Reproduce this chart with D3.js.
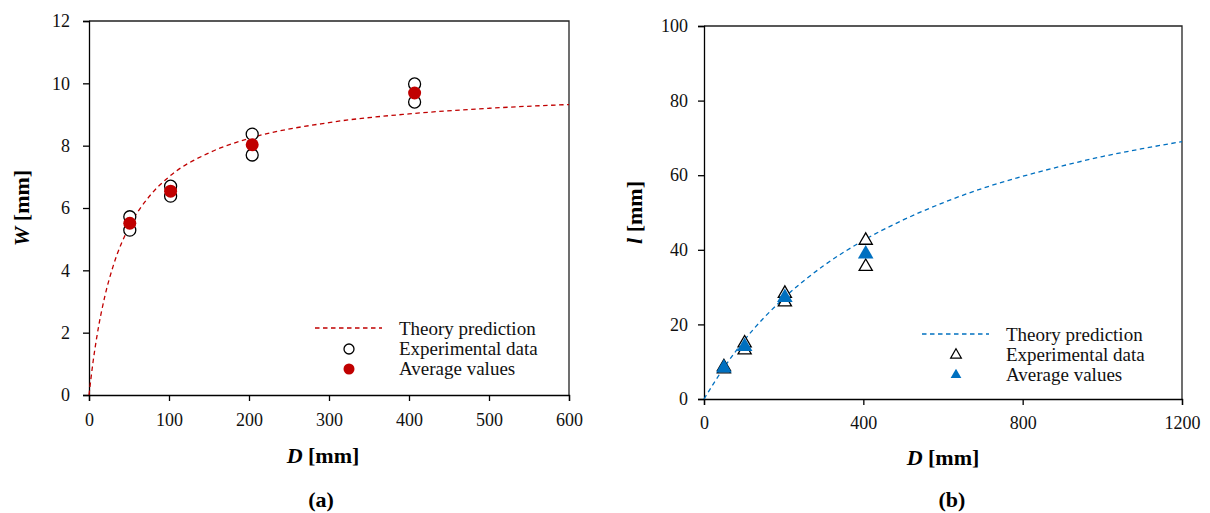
<!DOCTYPE html>
<html>
<head>
<meta charset="utf-8">
<script src="https://cdn.jsdelivr.net/npm/d3@7"></script>
<style>
  html, body { margin: 0; padding: 0; background: #fff; }
  svg { display: block; font-family: "Liberation Serif", "Times New Roman", serif; }
</style>
</head>
<body>
<svg id="chart" width="1210" height="513"></svg>
<script>
// ---------- Data: panel (a) ----------
const wD        = [51, 102, 204, 407];
const wExpHigh  = [5.72, 6.70, 8.37, 9.98];
const wExpLow   = [5.29, 6.38, 7.70, 9.40];
const wAvg      = [5.51, 6.54, 8.03, 9.69];
const wTheoryD  = [0, 5, 10, 20, 30, 50, 75, 100, 150, 200, 300, 400, 500, 600];
const wTheoryV  = [0, 1.05, 1.90, 3.19, 4.12, 5.39, 6.36, 7.00, 7.77, 8.23, 8.74, 9.02, 9.20, 9.32];
const wXTicks   = [0, 100, 200, 300, 400, 500, 600];
const wYTicks   = [0, 2, 4, 6, 8, 10, 12];

// ---------- Data: panel (b) ----------
const lD        = [50, 102, 203, 406];
const lExpHigh  = [8.6, 15.0, 28.3, 42.5];
const lExpLow   = [8.0, 13.1, 26.0, 35.5];
const lAvg      = [8.3, 14.1, 27.2, 38.9];
const lTheoryD  = [0, 50, 100, 200, 300, 400, 500, 600, 700, 800, 900, 1000, 1100, 1200];
const lTheoryV  = [0, 8.4, 15.6, 27.0, 35.7, 42.5, 48.0, 52.6, 56.5, 59.7, 62.5, 65.0, 67.1, 69.0];
const lXTicks   = [0, 400, 800, 1200];
const lYTicks   = [0, 20, 40, 60, 80, 100];

const legendLabels = ["Theory prediction", "Experimental data", "Average values"];

const RED = "#C00000", BLUE = "#0070C0";
const svg = d3.select("#chart");

function panel(cfg) {
  const x = d3.scaleLinear().domain(cfg.xDomain).range([cfg.left, cfg.right]);
  const y = d3.scaleLinear().domain(cfg.yDomain).range([cfg.bottom, cfg.top]);
  const g = svg.append("g");

  // frame (top/right)
  g.append("path")
    .attr("d", `M${cfg.left},${cfg.top}H${cfg.right}V${cfg.bottom}`)
    .attr("fill", "none").attr("stroke", "#222").attr("stroke-width", 1.3);

  const xAxis = d3.axisBottom(x).tickValues(cfg.xTicks).tickSize(6).tickPadding(cfg.xPad).tickFormat(d3.format("d"));
  const yAxis = d3.axisLeft(y).tickValues(cfg.yTicks).tickSize(6).tickPadding(cfg.yPad).tickFormat(d3.format("d"));
  const gx = g.append("g").attr("transform", `translate(0,${cfg.bottom})`).call(xAxis);
  const gy = g.append("g").attr("transform", `translate(${cfg.left},0)`).call(yAxis);
  [gx, gy].forEach(a => {
    a.select(".domain").attr("stroke", "#000").attr("stroke-width", 1.3);
    a.selectAll(".tick line").attr("stroke", "#000").attr("stroke-width", 1.3);
    a.selectAll(".tick text").attr("font-size", 18).attr("fill", "#111")
      .attr("font-family", "'Liberation Serif', 'Times New Roman', serif");
  });

  // theory curve
  const line = d3.line().x(d => x(d[0])).y(d => y(d[1])).curve(d3.curveMonotoneX);
  g.append("path")
    .datum(cfg.theoryD.map((d, i) => [d, cfg.theoryV[i]]))
    .attr("d", line).attr("fill", "none")
    .attr("stroke", cfg.color).attr("stroke-width", 1.3).attr("stroke-dasharray", "4.5,3.5");

  // experimental points
  const exp = cfg.D.flatMap((d, i) => [[d, cfg.expHigh[i]], [d, cfg.expLow[i]]]);
  cfg.drawExp(g, exp.map(p => [x(p[0]), y(p[1])]));
  // average points
  cfg.drawAvg(g, cfg.D.map((d, i) => [x(d), y(cfg.avg[i])]));

  // axis titles
  const xt = g.append("text").attr("x", cfg.xTitleX).attr("y", cfg.xTitleY)
    .attr("text-anchor", "middle").attr("font-size", 22).attr("font-weight", "bold");
  xt.append("tspan").attr("font-style", "italic").text("D");
  xt.append("tspan").text(" [mm]");

  const yt = g.append("text")
    .attr("transform", `translate(${cfg.yTitleX},${(cfg.top + cfg.bottom) / 2}) rotate(-90)`)
    .attr("text-anchor", "middle").attr("font-size", 22).attr("font-weight", "bold");
  yt.append("tspan").attr("font-style", "italic").text(cfg.yVar);
  yt.append("tspan").text(" [mm]");

  g.append("text").attr("x", cfg.capX).attr("y", 507)
    .attr("text-anchor", "middle").attr("font-size", 22).attr("font-weight", "bold").text(cfg.caption);

  // legend
  const lg = g.append("g");
  const lx = cfg.legX, ly = cfg.legY;
  lg.append("line").attr("x1", lx).attr("x2", lx + 67).attr("y1", ly - 7).attr("y2", ly - 7)
    .attr("stroke", cfg.color).attr("stroke-width", 1.3).attr("stroke-dasharray", "4.5,3.5");
  cfg.drawExpLegend(lg, lx + 34, ly + 20 - 6);
  cfg.drawAvgLegend(lg, lx + 34, ly + 40 - 6);
  legendLabels.forEach((t, i) => {
    lg.append("text").attr("x", lx + 84).attr("y", ly + i * 20)
      .attr("font-size", 19).attr("fill", "#111").text(t);
  });
}

// panel (a)
panel({
  xDomain: [0, 600], yDomain: [0, 12], left: 89, right: 569, top: 21, bottom: 395,
  xTicks: wXTicks, yTicks: wYTicks, xPad: 12, yPad: 13,
  theoryD: wTheoryD, theoryV: wTheoryV, color: RED,
  D: wD, expHigh: wExpHigh, expLow: wExpLow, avg: wAvg,
  drawExp: (g, pts) => g.selectAll(null).data(pts).join("circle")
    .attr("cx", d => d[0]).attr("cy", d => d[1]).attr("r", 6)
    .attr("fill", "#fff").attr("stroke", "#000").attr("stroke-width", 1.3),
  drawAvg: (g, pts) => g.selectAll(null).data(pts).join("circle")
    .attr("cx", d => d[0]).attr("cy", d => d[1]).attr("r", 6.5).attr("fill", RED),
  drawExpLegend: (g, cx, cy) => g.append("circle").attr("cx", cx).attr("cy", cy).attr("r", 5)
    .attr("fill", "#fff").attr("stroke", "#000").attr("stroke-width", 1.3),
  drawAvgLegend: (g, cx, cy) => g.append("circle").attr("cx", cx).attr("cy", cy).attr("r", 5.5).attr("fill", RED),
  xTitleX: 323, xTitleY: 463, yVar: "W", yTitleX: 29, capX: 321, caption: "(a)",
  legX: 315, legY: 335
});

// panel (b)
const triBig = d3.symbol().type(d3.symbolTriangle).size(105);
const triSmall = d3.symbol().type(d3.symbolTriangle).size(75);
const triLeg = d3.symbol().type(d3.symbolTriangle).size(50);
panel({
  xDomain: [0, 1200], yDomain: [0, 100], left: 704, right: 1182, top: 26, bottom: 399,
  xTicks: lXTicks, yTicks: lYTicks, xPad: 11, yPad: 10,
  theoryD: lTheoryD, theoryV: lTheoryV, color: BLUE,
  D: lD, expHigh: lExpHigh, expLow: lExpLow, avg: lAvg,
  drawExp: (g, pts) => g.selectAll(null).data(pts).join("path")
    .attr("transform", d => `translate(${d[0]},${d[1]})`).attr("d", triSmall)
    .attr("fill", "#fff").attr("stroke", "#000").attr("stroke-width", 1.3),
  drawAvg: (g, pts) => g.selectAll(null).data(pts).join("path")
    .attr("transform", d => `translate(${d[0]},${d[1]})`).attr("d", triBig).attr("fill", BLUE),
  drawExpLegend: (g, cx, cy) => g.append("path").attr("transform", `translate(${cx},${cy})`)
    .attr("d", triLeg).attr("fill", "#fff").attr("stroke", "#000").attr("stroke-width", 1.2),
  drawAvgLegend: (g, cx, cy) => g.append("path").attr("transform", `translate(${cx},${cy})`)
    .attr("d", triLeg).attr("fill", BLUE),
  xTitleX: 943, xTitleY: 465, yVar: "l", yTitleX: 642, capX: 952, caption: "(b)",
  legX: 922, legY: 341
});
</script>
</body>
</html>
